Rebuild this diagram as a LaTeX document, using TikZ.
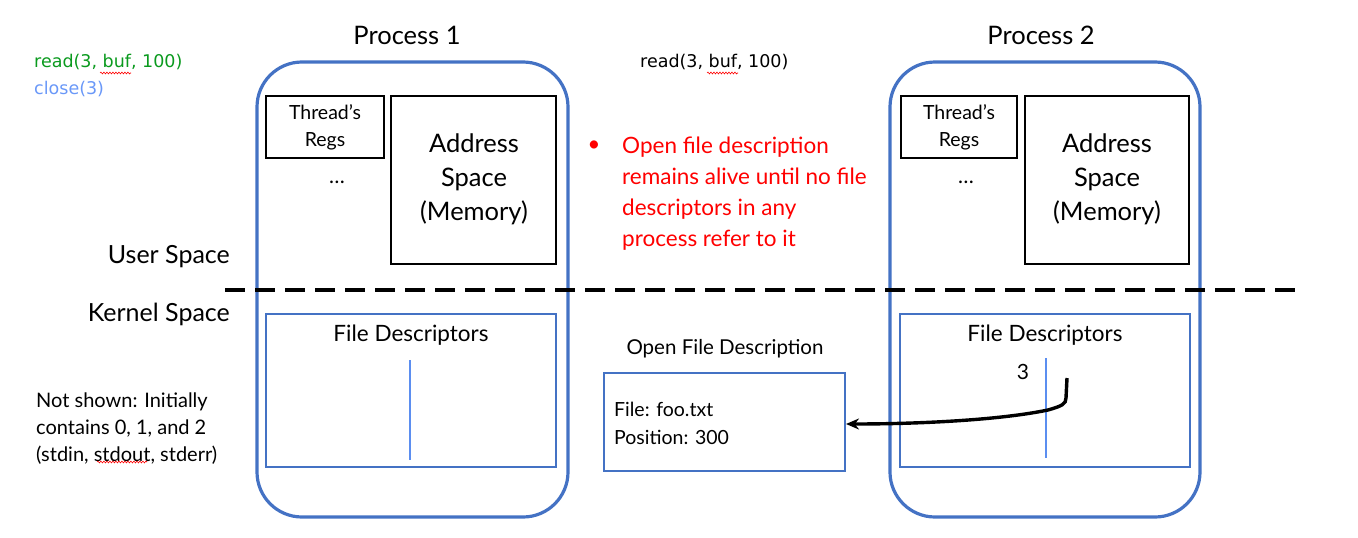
\documentclass[tikz,border=0pt]{standalone}
\usepackage{fontspec}
\setmainfont{Lato}
\newfontfamily\codefont{DejaVu Sans}
\usetikzlibrary{arrows.meta,decorations.pathmorphing}
\definecolor{pblue}{HTML}{4472C4}
\definecolor{lblue}{HTML}{5B8EF0}
\definecolor{cgreen}{HTML}{0A9A1E}
\definecolor{cblue}{HTML}{6A98F8}
\tikzset{
  proc/.style={draw=pblue,line width=3.2pt,rounded corners=45pt},
  blackbox/.style={draw=black,line width=2.6pt},
  fdbox/.style={draw=pblue,line width=2pt},
  fdline/.style={draw=lblue,line width=1.4pt},
  squig/.style={draw=red,line width=0.6pt,decorate,decoration={snake,amplitude=0.9pt,segment length=3pt}},
  lbl/.style={inner sep=0pt,align=center},
}
\begin{document}
\begin{tikzpicture}[x=1pt,y=-1pt]
\useasboundingbox (0,0) rectangle (1358,538);
% processes
\draw[proc] (257,62) rectangle (568,517);
\draw[proc] (890,62) rectangle (1200,517);
\node[lbl,font=\fontsize{25.5}{30}\selectfont] (p1) at (407,35) {Process 1};
\node[lbl,font=\fontsize{25.5}{30}\selectfont] (p2) at (1041,35) {Process 2};
% process 1 user parts
\draw[blackbox] (266,96) rectangle (384,158);
\node[lbl,font=\fontsize{19.5}{27}\selectfont] (tr1) at (325,127) {Thread’s\\Regs};
\node[lbl,font=\fontsize{21}{24}\selectfont] (d1) at (337,182) {\dots};
\draw[blackbox] (391,96) rectangle (556,264);
\node[lbl,font=\fontsize{25.5}{34}\selectfont] (as1) at (474,179) {Address\\Space\\(Memory)};
% process 2 user parts
\draw[blackbox] (901,96) rectangle (1017,158);
\node[lbl,font=\fontsize{19.5}{27}\selectfont] (tr2) at (959,127) {Thread’s\\Regs};
\node[lbl,font=\fontsize{21}{24}\selectfont] (d2) at (966,182) {\dots};
\draw[blackbox] (1025,96) rectangle (1189,264);
\node[lbl,font=\fontsize{25.5}{34}\selectfont] (as2) at (1107,179) {Address\\Space\\(Memory)};
% dashed boundary
\draw[line width=3.2pt,dash pattern=on 20pt off 10pt] (225,290) -- (1295,290);
\node[lbl,anchor=east,font=\fontsize{25}{30}\selectfont] (us) at (230,257) {User Space};
\node[lbl,anchor=east,font=\fontsize{25}{30}\selectfont] (ks) at (230,314) {Kernel Space};
% file descriptor tables
\draw[fdbox] (266,314) rectangle (556,467);
\node[lbl,font=\fontsize{22.5}{26}\selectfont] (fd1) at (411,335) {File Descriptors};
\coordinate (v1a) at (410,360);
\coordinate (v1b) at (410,460);
\draw[fdline] (v1a) -- (v1b);
\draw[fdbox] (900,314) rectangle (1190,467);
\node[lbl,font=\fontsize{22.5}{26}\selectfont] (fd2) at (1045,335) {File Descriptors};
\coordinate (v2a) at (1046,358);
\coordinate (v2b) at (1046,458);
\draw[fdline] (v2a) -- (v2b);
\node[lbl,font=\fontsize{21}{24}\selectfont] (three) at (1023,372) {3};
% open file description
\node[lbl,font=\fontsize{20.5}{24}\selectfont] (ofdl) at (725,349) {Open File Description};
\node[fdbox,minimum width=241pt,minimum height=98pt,inner sep=0pt] (ofd) at (724.5,422) {};
\node[lbl,anchor=west,align=left,font=\fontsize{19.5}{28}\selectfont] (ofdt) at (614,423) {File: foo.txt\\Position: 300};
% arrow
\coordinate (as) at (1067,378);
\draw[line width=3.4pt,-{Stealth[length=13pt,width=11pt]}] (as) -- (1066,398) .. controls (1066,404) and (1062,406) .. (1048,410) .. controls (1000,420) and (920,424) .. (ofd.east |- 0,424);
% red bullet
\node[lbl,anchor=west,align=left,text=red,font=\fontsize{22.5}{31}\selectfont] (note) at (622,194) {Open file description\\remains alive until no file\\descriptors in any\\process refer to it};
\node[lbl,text=red,font=\fontsize{22}{24}\selectfont] (bul) at (594,146) {\textbullet};
% code texts
\node[lbl,anchor=west,font=\codefont\fontsize{17.5}{20}\selectfont] (rd2) at (640,62) {read(3, buf, 100)};
\node[lbl,anchor=west,text=cgreen,font=\codefont\fontsize{17.5}{20}\selectfont] (rd1) at (34,62) {read(3, buf, 100)};
\node[lbl,anchor=west,text=cblue,font=\codefont\fontsize{17.5}{20}\selectfont] (cl) at (34,89) {close(3)};
% note
\node[lbl,anchor=west,align=left,font=\fontsize{20}{27}\selectfont] (ns) at (36,429) {Not shown: Initially\\contains 0, 1, and 2\\(stdin, stdout, stderr)};
% spell-check squiggles
\coordinate (s1a) at (100,73); \coordinate (s1b) at (131,73);
\coordinate (s2a) at (707,73); \coordinate (s2b) at (738,73);
\coordinate (s3a) at (97,462); \coordinate (s3b) at (147,462);
\draw[squig] (s1a) -- (s1b);
\draw[squig] (s2a) -- (s2b);
\draw[squig] (s3a) -- (s3b);
\end{tikzpicture}
\end{document}
